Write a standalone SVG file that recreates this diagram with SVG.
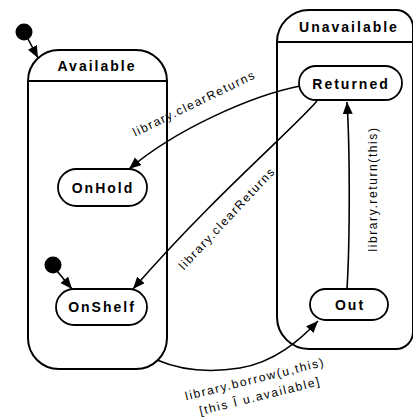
<svg xmlns="http://www.w3.org/2000/svg" width="413" height="417" viewBox="0 0 413 417">
<defs>
<marker id="ah" markerUnits="userSpaceOnUse" markerWidth="13" markerHeight="11" refX="12" refY="5" orient="auto"><path d="M0,0 L12,5 L0,10 Z" fill="#000"/></marker>
<style>
.box{fill:#fff;stroke:#000;stroke-width:2}
.node{fill:#fff;stroke:#000;stroke-width:1.8}
.t{font-family:"Liberation Sans",Arial,sans-serif;font-weight:bold;font-size:14px;letter-spacing:2px;text-anchor:middle;fill:#000}
.lbl{font-family:"Liberation Sans",Arial,sans-serif;font-size:12px;letter-spacing:1.6px;text-anchor:middle;fill:#000}
.e{fill:none;stroke:#000;stroke-width:1.6;marker-end:url(#ah)}
.dot{fill:#000}
</style>
</defs>
<rect width="413" height="417" fill="#fff"/>
<g id="Available">
<rect class="box" x="28" y="50" width="139" height="319" rx="31"/>
<line x1="28" y1="81" x2="167" y2="81" stroke="#000" stroke-width="2"/>
<text class="t" x="97" y="71">Available</text>
</g>
<g id="Unavailable">
<path class="box" d="M309,10 H396 A17,17 0 0 1 413,27 V332 A17,17 0 0 1 396,349 H309 A32,32 0 0 1 277,317 V42 A32,32 0 0 1 309,10 Z"/>
<line x1="277" y1="42" x2="413" y2="42" stroke="#000" stroke-width="2"/>
<text class="t" x="349" y="32">Unavailable</text>
</g>
<g id="init1"><circle class="dot" cx="24" cy="32" r="8.5"/></g>
<g id="init2"><circle class="dot" cx="53" cy="265" r="8.5"/></g>
<g id="Returned">
<rect class="node" x="299" y="66" width="103" height="34" rx="17"/>
<text class="t" x="351" y="89">Returned</text>
</g>
<g id="OnHold">
<rect class="node" x="58" y="169" width="89" height="37" rx="18.5"/>
<text class="t" x="103" y="193">OnHold</text>
</g>
<g id="OnShelf">
<rect class="node" x="56" y="289" width="91" height="36" rx="18"/>
<text class="t" x="102" y="312">OnShelf</text>
</g>
<g id="Out">
<rect class="node" x="310" y="289" width="78" height="31" rx="15.5"/>
<text class="t" x="350" y="310">Out</text>
</g>
<g id="connectors">
<path class="e" d="M28,39 L38,58"/>
<path class="e" d="M57,271 L72,289"/>
<path class="e" d="M300,86 C250,96 175,130 129,169"/>
<path class="e" d="M317,101 C290,132 215,195 133,289"/>
<path class="e" d="M347,289 C350,240 350,150 347,102"/>
<path class="e" d="M157,360 C185,372 215,372 240,368 C275,362 300,340 318,321"/>
<text class="lbl" transform="translate(196,107) rotate(-26)">library.clearReturns</text>
<text class="lbl" transform="translate(230,221) rotate(-47)">library.clearReturns</text>
<text class="lbl" transform="translate(377,189) rotate(-90)">library.return(this)</text>
<text class="lbl" transform="translate(256,383) rotate(-14)">library.borrow(u,this)</text>
<text class="lbl" transform="translate(261,400) rotate(-14)">[this Î u.available]</text>
</g>
</svg>
